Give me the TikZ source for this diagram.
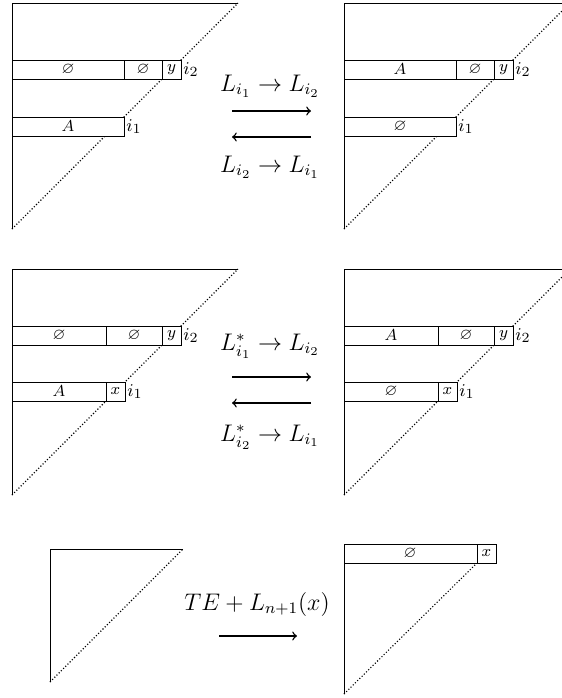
\documentclass[tikz,border=0pt]{standalone}
\usepackage{amssymb}
\begin{document}
\begin{tikzpicture}[x=0.5pt,y=-0.5pt, line width=0.4pt,
  diag/.style={densely dotted, line width=0.55pt},
  barbox/.style={draw, fill=white},
  cell/.style={font=\fontsize{8}{9}\selectfont, inner sep=0pt},
  idx/.style={font=\fontsize{9.5}{10}\selectfont, anchor=west, inner sep=1pt},
  lab/.style={font=\fontsize{11.5}{14}\selectfont, inner sep=0pt},
  arr/.style={line width=0.7pt,->}]
\useasboundingbox (0,0) rectangle (562,698);

% ---------- Panel 1 (top left)
\draw (238,3) -- (12,3) -- (12,229);
\draw[diag] (12,229) -- (238,3);
\draw[barbox] (12,60) rectangle (181,79);
\draw (124,60) -- (124,79);
\draw (162,60) -- (162,79);
\node[cell] (p1a) at (68,69.5) {$\varnothing$};
\node[cell] (p1b) at (143,69.5) {$\varnothing$};
\node[cell] (p1y) at (171.5,69.5) {$y$};
\node[idx] (p1i2) at (181,69.5) {$i_2$};
\draw[barbox] (12,117) rectangle (124,136);
\node[cell] (p1c) at (68,126.5) {$A$};
\node[idx] (p1i1) at (124,126.5) {$i_1$};

% ---------- Panel 2 (top right)
\draw (570,3) -- (344,3) -- (344,229);
\draw[diag] (344,229) -- (570,3);
\draw[barbox] (344,60) rectangle (513,79);
\draw (456,60) -- (456,79);
\draw (494,60) -- (494,79);
\node[cell] (p2a) at (400,69.5) {$A$};
\node[cell] (p2b) at (475,69.5) {$\varnothing$};
\node[cell] (p2y) at (503.5,69.5) {$y$};
\node[idx] (p2i2) at (513,69.5) {$i_2$};
\draw[barbox] (344,117) rectangle (456,136);
\node[cell] (p2c) at (400,126.5) {$\varnothing$};
\node[idx] (p2i1) at (456,126.5) {$i_1$};

% ---------- Panel 3 (middle left)
\draw (238,269) -- (12,269) -- (12,495);
\draw[diag] (12,495) -- (238,269);
\draw[barbox] (12,326) rectangle (181,345);
\draw (106,326) -- (106,345);
\draw (162,326) -- (162,345);
\node[cell] (p3a) at (59,335.5) {$\varnothing$};
\node[cell] (p3b) at (134,335.5) {$\varnothing$};
\node[cell] (p3y) at (171.5,335.5) {$y$};
\node[idx] (p3i2) at (181,335.5) {$i_2$};
\draw[barbox] (12,382) rectangle (125,401);
\draw (106,382) -- (106,401);
\node[cell] (p3c) at (59,391.5) {$A$};
\node[cell] (p3x) at (115.5,391.5) {$x$};
\node[idx] (p3i1) at (125,391.5) {$i_1$};

% ---------- Panel 4 (middle right)
\draw (570,269) -- (344,269) -- (344,495);
\draw[diag] (344,495) -- (570,269);
\draw[barbox] (344,326) rectangle (513,345);
\draw (438,326) -- (438,345);
\draw (494,326) -- (494,345);
\node[cell] (p4a) at (391,335.5) {$A$};
\node[cell] (p4b) at (466,335.5) {$\varnothing$};
\node[cell] (p4y) at (503.5,335.5) {$y$};
\node[idx] (p4i2) at (513,335.5) {$i_2$};
\draw[barbox] (344,382) rectangle (457,401);
\draw (438,382) -- (438,401);
\node[cell] (p4c) at (391,391.5) {$\varnothing$};
\node[cell] (p4x) at (447.5,391.5) {$x$};
\node[idx] (p4i1) at (457,391.5) {$i_1$};

% ---------- Panel 5 (bottom left)
\draw (183,549) -- (50,549) -- (50,682);
\draw[diag] (50,682) -- (183,549);

% ---------- Panel 6 (bottom right)
\draw (344,544) -- (344,694);
\draw[diag] (344,694) -- (477,563);
\draw[barbox] (344,544) rectangle (496,563);
\draw (477,544) -- (477,563);
\node[cell] (p6a) at (410,553.5) {$\varnothing$};
\node[cell] (p6x) at (486.5,553.5) {$x$};

% ---------- Arrows and labels
\node[lab] (l1) at (270,86) {$L_{i_1}\to L_{i_2}$};
\coordinate (a1s) at (232,111);
\coordinate (a1e) at (311,111);
\draw[arr] (a1s) -- (a1e);
\coordinate (b1s) at (311,137);
\coordinate (b1e) at (232,137);
\draw[arr] (b1s) -- (b1e);
\node[lab] (l2) at (270,167) {$L_{i_2}\to L_{i_1}$};

\node[lab] (l3) at (270,346) {$L^*_{i_1}\to L_{i_2}$};
\coordinate (a2s) at (232,377);
\coordinate (a2e) at (311,377);
\draw[arr] (a2s) -- (a2e);
\coordinate (b2s) at (311,403);
\coordinate (b2e) at (232,403);
\draw[arr] (b2s) -- (b2e);
\node[lab] (l4) at (270,437) {$L^*_{i_2}\to L_{i_1}$};

\node[lab] (l5) at (257,604) {$TE+L_{n+1}(x)$};
\coordinate (a3s) at (219,636);
\coordinate (a3e) at (297,636);
\draw[arr] (a3s) -- (a3e);
\end{tikzpicture}
\end{document}
